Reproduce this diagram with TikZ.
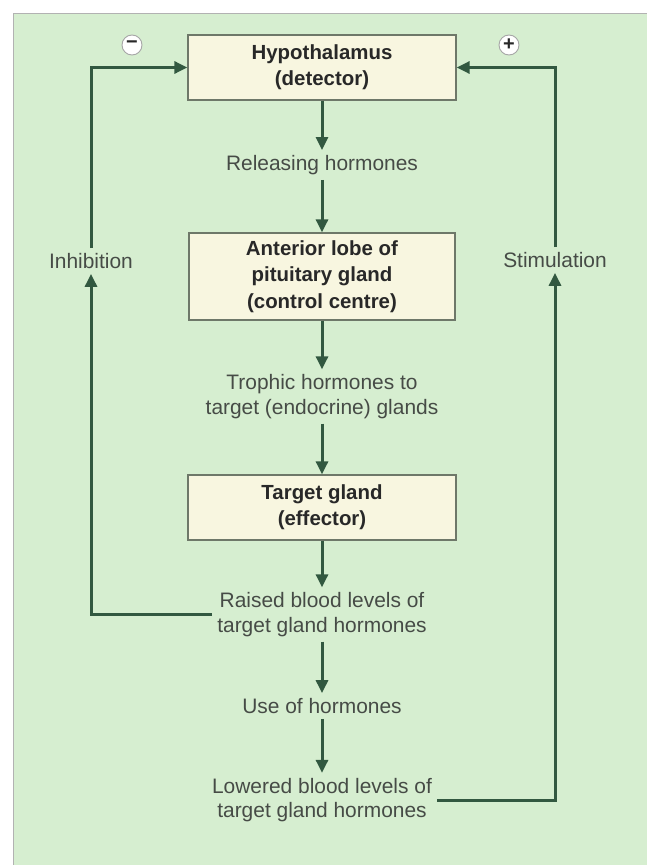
\documentclass[tikz,border=0pt]{standalone}
\usepackage{fontspec}
\setmainfont{Liberation Sans}
\usetikzlibrary{arrows.meta}
\definecolor{bg}{RGB}{214,238,208}
\definecolor{boxfill}{RGB}{248,246,224}
\definecolor{boxline}{RGB}{110,120,105}
\definecolor{arr}{RGB}{50,88,64}
\definecolor{txt}{RGB}{70,75,70}
\definecolor{btxt}{RGB}{40,40,40}
\begin{document}
\begin{tikzpicture}[x=1bp,y=-1bp,
 box/.style={draw=boxline, line width=1.3bp, fill=boxfill, align=center,
   font=\fontsize{20.5}{26.5}\selectfont\bfseries, text=btxt, inner sep=0pt},
 lbl/.style={align=center, font=\fontsize{21}{24.5}\selectfont, text=txt, inner sep=5bp},
 flow/.style={draw=arr, line width=3bp, -{Triangle[length=13bp,width=12bp]}},
 sign/.style={circle, draw=gray!70, fill=white, line width=0.9bp, minimum size=20bp,
   inner sep=0pt, font=\fontsize{20}{20}\selectfont\bfseries, text=btxt}]
\useasboundingbox (0,0) rectangle (647,865);
\fill[white] (0,0) rectangle (647,865);
\draw[fill=bg, draw=gray!60, line width=0.8bp] (13,13) rectangle (660,880);

\node[box, minimum width=268bp, minimum height=65bp] (hyp) at (322,67.5) {Hypothalamus\\(detector)};
\node[lbl] (rel) at (322,165) {Releasing hormones};
\node[box, minimum width=266bp, minimum height=87bp] (ant) at (322,276.5) {Anterior lobe of\\pituitary gland\\(control centre)};
\node[lbl] (tro) at (322,396.5) {Trophic hormones to\\target (endocrine) glands};
\node[box, minimum width=268bp, minimum height=65bp] (tgt) at (322,507.5) {Target gland\\(effector)};
\node[lbl] (rai) at (322,614.5) {Raised blood levels of\\target gland hormones};
\node[lbl] (use) at (322,706) {Use of hormones};
\node[lbl] (low) at (322,800) {Lowered blood levels of\\target gland hormones};
\node[lbl] (inh) at (91,261) {Inhibition};
\node[lbl] (sti) at (555,260) {Stimulation};
\node[sign] (minus) at (132,45) {−};
\node[sign] (plus) at (509,45) {+};

\draw[flow] (hyp.south) -- (rel.north);
\draw[flow] (rel.south) -- (ant.north);
\draw[flow] (ant.south) -- (tro.north);
\draw[flow] (tro.south) -- (tgt.north);
\draw[flow] (tgt.south) -- (rai.north);
\draw[flow] (rai.south) -- (use.north);
\draw[flow] (use.south) -- (low.north);

\draw[flow] (rai.west) -| (inh.south);
\draw[flow] (inh.north) |- (hyp.west);
\draw[flow] (low.east) -| (sti.south);
\draw[flow] (sti.north) |- (hyp.east);
\end{tikzpicture}
\end{document}
